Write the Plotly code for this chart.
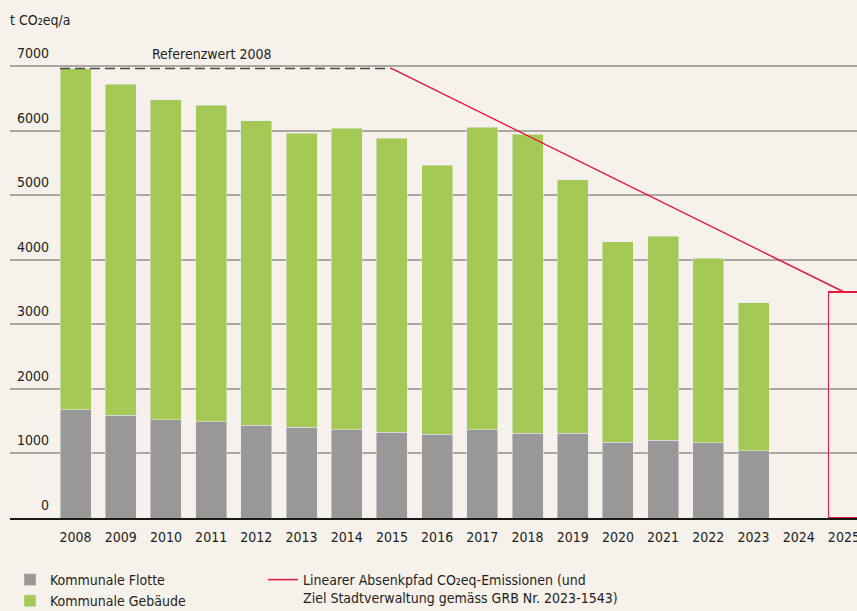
import plotly.graph_objects as go

# Jahre (Kategorien) und Werte in t CO2eq/a
jahre = [str(j) for j in range(2008, 2026)]
flotte = [1673, 1595, 1518, 1487, 1440, 1409, 1363, 1332, 1301, 1363, 1316, 1316, 1177, 1208, 1162, 1038]
gebaeude = [5287, 5125, 4957, 4908, 4710, 4551, 4677, 4553, 4164, 4692, 4629, 3919, 3098, 3157, 2863, 2292]

referenzwert = 6960          # Referenzwert 2008
pfad_jahre = ["2015", "2025"]
pfad_werte = [6960, 3500]    # linearer Absenkpfad
ziel_jahr = ["2025"]
ziel_wert = [3500]

y_ticks = [0, 1000, 2000, 3000, 4000, 5000, 6000, 7000]

BG = "#F6F1EB"
GRAU = "#999898"
GRUEN = "#A5C955"
ROT = "#E2173E"
TEXT = "#231F20"
FONT = "DejaVu Sans Condensed, Liberation Sans Narrow, Roboto, sans-serif"
FS = 14

fig = go.Figure()

fig.add_trace(go.Bar(
    name="Kommunale Flotte", x=jahre[:len(flotte)], y=flotte,
    marker_color=GRAU, legend="legend",
))
fig.add_trace(go.Bar(
    name="Kommunale Gebäude", x=jahre[:len(gebaeude)], y=gebaeude,
    marker_color=GRUEN, legend="legend",
))
# Zielwert 2025 als Umriss
fig.add_trace(go.Bar(
    x=ziel_jahr, y=ziel_wert, showlegend=False,
    marker=dict(color="rgba(0,0,0,0)", line=dict(color=ROT, width=1.5)),
))
fig.add_trace(go.Scatter(
    name="Linearer Absenkpfad CO₂eq-Emissionen (und<br>Ziel Stadtverwaltung gemäss GRB Nr. 2023-1543)",
    x=pfad_jahre, y=pfad_werte, mode="lines",
    line=dict(color=ROT, width=1.5), legend="legend2",
))

bargap = 0.314
# gestrichelte Referenzlinie bis zum Beginn des Absenkpfads
fig.add_shape(
    type="line", xref="x", yref="y",
    x0=-(1 - bargap) / 2, x1=jahre.index(pfad_jahre[0]),
    y0=referenzwert, y1=referenzwert,
    line=dict(color="#4A4A4A", width=1.5, dash="10px,5px"),
)
fig.add_annotation(
    x=jahre.index("2011"), xref="x", y=referenzwert, yref="y", text="Referenzwert 2008",
    showarrow=False, yanchor="bottom", yshift=5,
    font=dict(size=FS, color=TEXT, family=FONT),
)

for v in y_ticks:
    fig.add_annotation(
        x=0.0484, xref="paper", y=v, yref="y", text=str(v),
        showarrow=False, xanchor="right", yanchor="bottom", yshift=3,
        font=dict(size=FS, color=TEXT, family=FONT),
    )

fig.update_layout(
    width=857, height=611,
    margin=dict(l=10, r=0, t=30, b=93, autoexpand=False),
    paper_bgcolor=BG, plot_bgcolor=BG,
    font=dict(family=FONT, size=FS, color=TEXT),
    barmode="stack", bargap=bargap,
    title=dict(text="t CO₂eq/a", x=10 / 857, xref="container", xanchor="left",
               y=1 - 20 / 611, yref="container", yanchor="middle",
               font=dict(size=FS, color=TEXT, family=FONT)),
    xaxis=dict(type="category", categoryorder="array", categoryarray=jahre,
               range=[-1.45, 17.29], showgrid=False, ticks="",
               showline=True, linecolor="#1A1A1A", linewidth=2, layer="above traces",
               ticklabelstandoff=5, tickfont=dict(size=FS, color=TEXT)),
    yaxis=dict(range=[0, 7558], tickvals=y_ticks, showticklabels=False,
               gridcolor="#AAA7A3", gridwidth=1.5, zeroline=False),
    legend=dict(x=10 / 857, xref="container", y=(611 - 564) / 611, yref="container",
                xanchor="left", yanchor="top", traceorder="normal",
                bgcolor="rgba(0,0,0,0)", font=dict(size=FS, color=TEXT)),
    legend2=dict(x=263 / 857, xref="container", y=(611 - 564) / 611, yref="container",
                 xanchor="left", yanchor="top", valign="top",
                 bgcolor="rgba(0,0,0,0)", font=dict(size=FS, color=TEXT)),
)

# Seitenrand entfernen, damit die Grafik das Fenster genau füllt
fig.write_html("out.html", config={"displayModeBar": False},
               post_script="document.body.style.margin='0';")
